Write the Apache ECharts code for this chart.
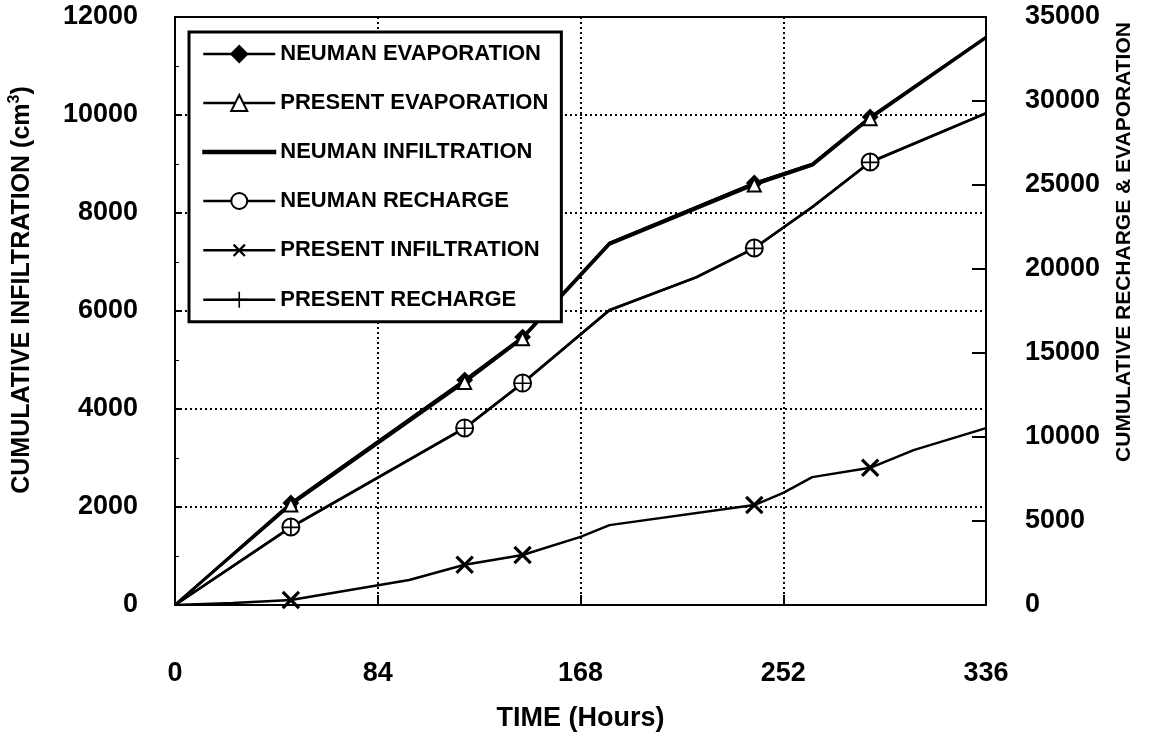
<!DOCTYPE html>
<html>
<head>
<meta charset="utf-8">
<script src="https://cdn.jsdelivr.net/npm/echarts@6/dist/echarts.min.js"></script>
<style>html,body{margin:0;padding:0;background:#fff}#c{width:1155px;height:740px}</style>
</head>
<body>
<div id="c"></div>
<script>
// ---- data ----
const xTicks = [0, 84, 168, 252, 336];
const markerHours = [48, 120, 144, 240, 288];

const hoursEvap = [0, 48, 120, 144, 180, 240, 264, 288, 336];
const neumanEvaporation = [0, 6070, 13390, 15950, 21550, 25120, 26250, 29050, 33810];
const presentEvaporation = [0, 5950, 13250, 15850, 21450, 25000, 26150, 28950, 33750];
const neumanInfiltration = [0, 2080, 4590, 5470, 7390, 8610, 9000, 9960, 11590];

const hoursRecharge = [0, 48, 120, 144, 180, 216, 240, 264, 288, 336];
const neumanRecharge = [0, 4640, 10540, 13210, 17560, 19520, 21250, 23690, 26370, 29280];
const presentRecharge = [0, 4620, 10520, 13200, 17540, 19500, 21230, 23670, 26350, 29260];

const hoursPresentInf = [0, 24, 48, 97, 120, 144, 168, 180, 240, 252, 264, 288, 306, 336];
const presentInfiltration = [0, 40, 100, 510, 820, 1020, 1390, 1630, 2040, 2290, 2610, 2800, 3160, 3610];

const seriesNames = ['NEUMAN EVAPORATION', 'PRESENT EVAPORATION', 'NEUMAN INFILTRATION',
  'NEUMAN RECHARGE', 'PRESENT INFILTRATION', 'PRESENT RECHARGE'];

// ---- helpers ----
function pts(hours, vals) {
  return hours.map((h, i) => markerHours.indexOf(h) >= 0
    ? { value: [h, vals[i]] }
    : { value: [h, vals[i]], symbol: 'none' });
}
const PLUS = 'path://M-1,-10H1V10H-1Z M-10,-1H10V1H-10Z';
const XMARK = 'path://M-1.4,-10H1.4V10H-1.4Z M-10,-1.4H10V1.4H-10Z';
const FONT = '"Liberation Sans", Arial, Helvetica, sans-serif';
const tickLabel = { fontFamily: FONT, fontWeight: 'bold', fontSize: 27, color: '#000', formatter: v => String(v) };

function line(name, hours, vals, axis, extra) {
  return Object.assign({
    name: name, type: 'line', yAxisIndex: axis,
    data: pts(hours, vals),
    showSymbol: true, showAllSymbol: true,
    color: '#000',
    lineStyle: { color: '#000', width: 2.5 },
    itemStyle: { color: '#000', borderColor: '#000', borderWidth: 2 },
    emphasis: { disabled: true },
    z: 3
  }, extra);
}

const legendData = seriesNames.map(n => n === 'NEUMAN INFILTRATION'
  ? { name: n, icon: 'path://M0,0H72V2.5H0Z' }
  : { name: n });

const chart = echarts.init(document.getElementById('c'), null, { renderer: 'canvas' });
chart.setOption({
  animation: false,
  backgroundColor: '#fff',
  grid: { left: 175, right: 169, top: 17, bottom: 135, containLabel: false, outerBoundsMode: 'none',
    show: true, borderColor: '#000', borderWidth: 2, backgroundColor: 'transparent' },
  legend: {
    orient: 'vertical', left: 189, top: 32,
    padding: [11, 13, 11, 13],
    itemWidth: 72, itemHeight: 20, itemGap: 27,
    backgroundColor: '#fff', borderColor: '#000', borderWidth: 3,
    lineStyle: { width: 2.5 },
    textStyle: { fontFamily: FONT, fontWeight: 'bold', fontSize: 22, color: '#000' },
    data: legendData,
    selectedMode: false
  },
  xAxis: {
    type: 'value', min: 0, max: 336, interval: 84,
    axisLine: { show: true, lineStyle: { color: '#000', width: 2 } },
    axisTick: { show: true, inside: true, length: 10, lineStyle: { color: '#000', width: 2 } },
    splitLine: { show: true, lineStyle: { color: '#000', width: 2, type: [2, 3] } },
    axisLabel: Object.assign({ margin: 55, customValues: xTicks }, tickLabel),
    name: 'TIME (Hours)', nameLocation: 'middle', nameGap: 100,
    nameTextStyle: { fontFamily: FONT, fontWeight: 'bold', fontSize: 27, color: '#000' }
  },
  yAxis: [
    {
      type: 'value', min: 0, max: 12000, interval: 2000, position: 'left',
      axisLine: { show: true, lineStyle: { color: '#000', width: 2 } },
      axisTick: { show: true, inside: true, length: 7, lineStyle: { color: '#000', width: 2 } },
      minorTick: { show: true, splitNumber: 2, length: 4, lineStyle: { color: '#000', width: 1 } },
      splitLine: { show: true, lineStyle: { color: '#000', width: 2, type: [2, 3] } },
      axisLabel: Object.assign({ margin: 37 }, tickLabel),
      name: '{a|CUMULATIVE INFILTRATION (cm}{s|3}{a|)}',
      nameLocation: 'middle', nameGap: 138,
      nameTextStyle: {
        padding: [0, 0, 0, 42],
        rich: {
          a: { fontFamily: FONT, fontWeight: 'bold', fontSize: 25, color: '#000', lineHeight: 30 },
          s: { fontFamily: FONT, fontWeight: 'bold', fontSize: 16, color: '#000', verticalAlign: 'top', lineHeight: 30 }
        }
      }
    },
    {
      type: 'value', min: 0, max: 35000, interval: 5000, position: 'right',
      axisLine: { show: true, lineStyle: { color: '#000', width: 2 } },
      axisTick: { show: true, inside: true, length: 14, lineStyle: { color: '#000', width: 2 } },
      splitLine: { show: false },
      axisLabel: Object.assign({ margin: 39 }, tickLabel),
      name: 'CUMULATIVE RECHARGE & EVAPORATION',
      nameLocation: 'middle', nameGap: 128,
      nameTextStyle: { fontFamily: FONT, fontWeight: 'bold', fontSize: 21, color: '#000', padding: [0, 0, 0, 138] }
    }
  ],
  series: [
    line(seriesNames[0], hoursEvap, neumanEvaporation, 1, { symbol: 'diamond', symbolSize: 14 }),
    line(seriesNames[1], hoursEvap, presentEvaporation, 1, { symbol: 'emptyTriangle', symbolSize: 13 }),
    line(seriesNames[2], hoursEvap, neumanInfiltration, 0, { symbol: 'none' }),
    line(seriesNames[3], hoursRecharge, neumanRecharge, 1, { symbol: 'emptyCircle', symbolSize: 17 }),
    line(seriesNames[4], hoursPresentInf, presentInfiltration, 0, { symbol: XMARK, symbolSize: 23, symbolRotate: 45, itemStyle: { color: '#000', borderWidth: 0 } }),
    line(seriesNames[5], hoursRecharge, presentRecharge, 1, { symbol: PLUS, symbolSize: 17, itemStyle: { color: '#000', borderWidth: 0 } })
  ]
});
</script>
</body>
</html>
